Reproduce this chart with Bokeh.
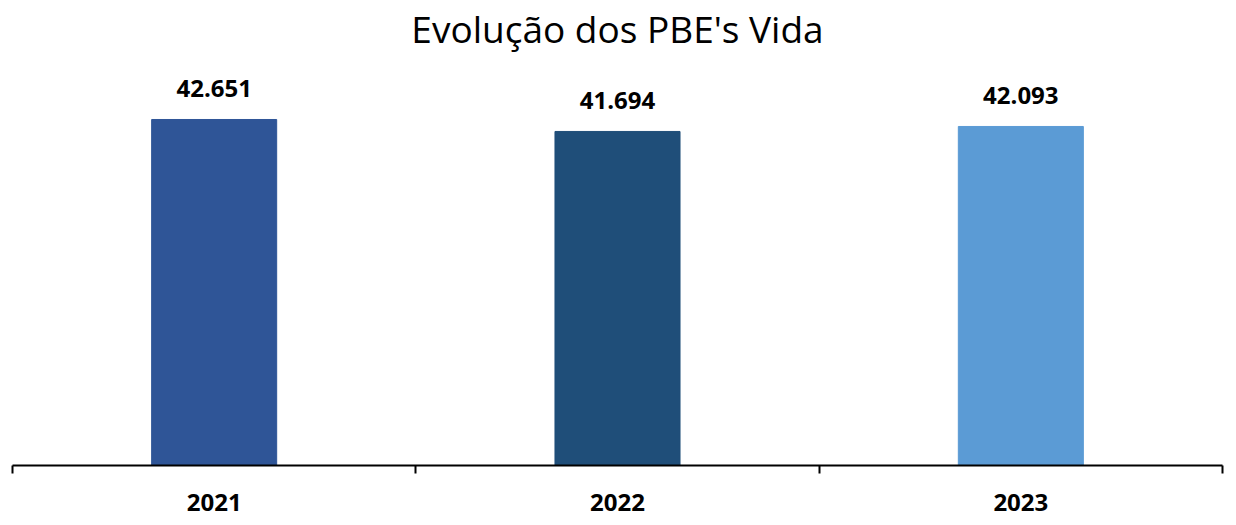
from bokeh.plotting import figure
from bokeh.models import Range1d, FixedTicker, Label, ColumnDataSource
from bokeh.core.properties import value
from bokeh.embed import file_html
from bokeh.resources import INLINE

# ---- data ----
years = ["2021", "2022", "2023"]
pbe_vida = [42651, 41694, 42093]
colors = ["#2F5597", "#1F4E79", "#5B9BD5"]
title_text = "Evolução dos PBE's Vida"

labels = [f"{v:,}".replace(",", ".") for v in pbe_vida]
xs = [i + 0.5 for i in range(len(years))]

Y0 = 15000
Y1 = 52160

FONT = "Open Sans"

p = figure(width=1236, height=525, output_backend="svg", toolbar_location=None,
           x_range=Range1d(0, len(years)), y_range=Range1d(Y0, Y1),
           min_border_left=12, min_border_right=14, min_border_top=0, min_border_bottom=60)
p.outline_line_color = None
p.xgrid.visible = False
p.ygrid.visible = False
p.yaxis.visible = False
p.background_fill_color = "white"
p.border_fill_color = "white"

src = ColumnDataSource(dict(x=xs, top=pbe_vida, color=colors, label=labels))
p.vbar(x="x", top="top", bottom=Y0, width=0.31, color="color", source=src)
p.text(x="x", y="top", text="label", source=src, y_offset=-31,
       text_align="center", text_baseline="alphabetic",
       text_font=value(FONT), text_font_style="bold", text_font_size="24px",
       text_color="black")

ax = p.xaxis[0]
ax.ticker = FixedTicker(ticks=xs, minor_ticks=list(range(len(years) + 1)))
ax.major_label_overrides = {x: y for x, y in zip(xs, years)}
ax.major_tick_line_color = None
ax.major_tick_out = 0
ax.major_tick_in = 0
ax.minor_tick_line_color = "black"
ax.minor_tick_line_width = 2
ax.minor_tick_out = 8
ax.minor_tick_in = 0
ax.axis_line_color = "black"
ax.axis_line_width = 2
ax.major_label_text_font = FONT
ax.major_label_text_font_style = "bold"
ax.major_label_text_font_size = "24px"
ax.major_label_text_color = "black"
ax.major_label_standoff = 20

p.add_layout(Label(x=len(years) / 2, y=49923, text=title_text,
                   text_align="center", text_baseline="middle",
                   text_font=FONT, text_font_size="37px", text_color="black"))

open("out.html", "w").write(file_html(p, INLINE))
